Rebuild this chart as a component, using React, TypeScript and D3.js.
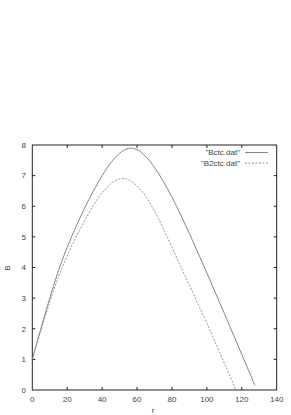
import React, { useEffect, useRef } from 'react';
import * as d3 from 'd3';

// r values (x axis) and B values for both files
const rBctc = [0, 5, 10, 15, 20, 25, 30, 35, 40, 45, 50, 55, 60, 65, 70, 75, 80, 85, 90, 95, 100, 105, 110, 115, 120, 125, 127.5];
const bBctc = [1.0, 2.02, 3.0, 3.9, 4.66, 5.33, 5.94, 6.5, 7.0, 7.42, 7.73, 7.89, 7.85, 7.62, 7.27, 6.82, 6.3, 5.72, 5.11, 4.47, 3.82, 3.16, 2.5, 1.83, 1.16, 0.49, 0.15];

const rB2ctc = [0, 5, 10, 15, 20, 25, 30, 35, 40, 45, 50, 55, 60, 65, 70, 75, 80, 85, 90, 95, 100, 105, 110, 115, 116.5];
const bB2ctc = [1.0, 1.95, 2.87, 3.7, 4.38, 4.98, 5.52, 6.03, 6.44, 6.73, 6.9, 6.87, 6.66, 6.33, 5.84, 5.28, 4.66, 4.03, 3.42, 2.8, 2.18, 1.53, 0.88, 0.22, 0.0];

const xTicks = [0, 20, 40, 60, 80, 100, 120, 140];
const yTicks = [0, 1, 2, 3, 4, 5, 6, 7, 8];
const seriesNames = ['"Bctc.dat"', '"B2ctc.dat"'];

export default function App() {
  const svgRef = useRef<SVGSVGElement>(null);

  useEffect(() => {
    if (!svgRef.current) return;
    const svg = d3.select(svgRef.current);
    svg.selectAll('*').remove();

    const x = d3.scaleLinear().domain([0, 140]).range([32.3, 276.7]);
    const y = d3.scaleLinear().domain([0, 8]).range([390, 145]);
    const font = 'Liberation Sans, Arial, sans-serif';
    const tick = 3;

    const g = svg.append('g');

    // рамка графика
    g.append('rect')
      .attr('x', x(0)).attr('y', y(8))
      .attr('width', x(140) - x(0)).attr('height', y(0) - y(8))
      .attr('fill', 'none').attr('stroke', '#222').attr('stroke-width', 1);

    // тики внутрь, с зеркалом
    xTicks.slice(1, -1).forEach(t => {
      g.append('line').attr('x1', x(t)).attr('x2', x(t)).attr('y1', y(0)).attr('y2', y(0) - tick).attr('stroke', '#222');
      g.append('line').attr('x1', x(t)).attr('x2', x(t)).attr('y1', y(8)).attr('y2', y(8) + tick).attr('stroke', '#222');
    });
    yTicks.slice(1, -1).forEach(t => {
      g.append('line').attr('x1', x(0)).attr('x2', x(0) + tick).attr('y1', y(t)).attr('y2', y(t)).attr('stroke', '#222');
      g.append('line').attr('x1', x(140)).attr('x2', x(140) - tick).attr('y1', y(t)).attr('y2', y(t)).attr('stroke', '#222');
    });

    g.selectAll('.xl').data(xTicks).enter().append('text')
      .attr('x', d => x(d)).attr('y', 402)
      .attr('text-anchor', 'middle')
      .style('font-family', font).style('font-size', '8px').style('fill', '#444')
      .text(d => d);

    g.selectAll('.yl').data(yTicks).enter().append('text')
      .attr('x', 26).attr('y', d => y(d)).attr('dy', '0.35em')
      .attr('text-anchor', 'end')
      .style('font-family', font).style('font-size', '8px').style('fill', '#444')
      .text(d => d);

    g.append('text').attr('x', 153).attr('y', 413).attr('text-anchor', 'middle')
      .style('font-family', font).style('font-size', '8px').style('fill', '#444').text('r');
    g.append('text').attr('transform', 'translate(10,268) rotate(-90)').attr('text-anchor', 'middle')
      .style('font-family', font).style('font-size', '8px').style('fill', '#444').text('B');

    const line = d3.line<[number, number]>()
      .x(d => x(d[0])).y(d => y(d[1]))
      .curve(d3.curveCatmullRom.alpha(0.5));

    const s1 = rBctc.map((r, i) => [r, bBctc[i]] as [number, number]);
    const s2 = rB2ctc.map((r, i) => [r, bB2ctc[i]] as [number, number]);

    g.append('path').attr('d', line(s1) as string)
      .attr('fill', 'none').attr('stroke', '#777').attr('stroke-width', 0.9);
    g.append('path').attr('d', line(s2) as string)
      .attr('fill', 'none').attr('stroke', '#888').attr('stroke-width', 0.9)
      .attr('stroke-dasharray', '2,1.5');

    // легенда
    seriesNames.forEach((name, i) => {
      const ly = 152.5 + i * 10.5;
      g.append('text').attr('x', 240).attr('y', ly).attr('dy', '0.35em')
        .attr('text-anchor', 'end')
        .style('font-family', font).style('font-size', '8px').style('fill', '#444')
        .text(name);
      g.append('line').attr('x1', 245).attr('x2', 268).attr('y1', ly).attr('y2', ly)
        .attr('stroke', i === 0 ? '#777' : '#888').attr('stroke-width', 0.9)
        .attr('stroke-dasharray', i === 0 ? null : '2,1.5');
    });
  }, []);

  return (
    <svg ref={svgRef} width={291} height={415}
      style={{ position: 'absolute', left: 0, top: 0, background: '#fff' }} />
  );
}
